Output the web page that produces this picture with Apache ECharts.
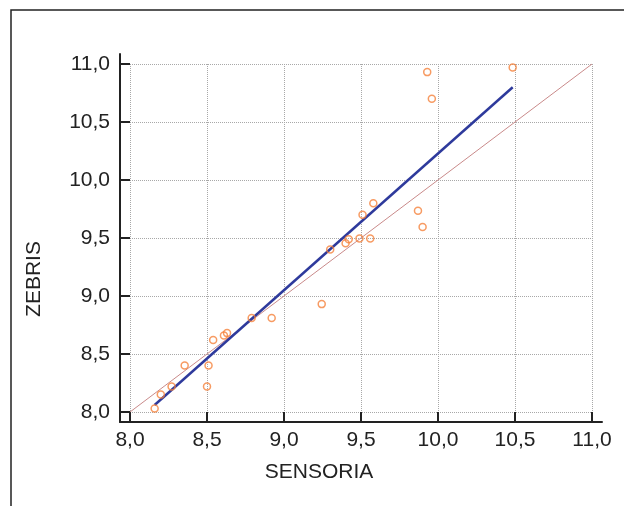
<!DOCTYPE html>
<html>
<head>
<meta charset="utf-8">
<script src="https://cdn.jsdelivr.net/npm/echarts@6/dist/echarts.min.js"></script>
<style>
html,body{margin:0;padding:0;background:#fff;}
#c{width:624px;height:506px;}
</style>
</head>
<body>
<div id="c"></div>
<script>
var sensoria = [9.93, 10.485, 9.96, 9.58, 9.51, 9.87, 9.90, 9.30, 9.40, 9.42, 9.49, 9.56, 9.245, 8.79, 8.92, 8.54, 8.61, 8.63, 8.355, 8.51, 8.50, 8.27, 8.20, 8.16];
var zebris   = [10.93, 10.97, 10.70, 9.80, 9.70, 9.735, 9.595, 9.40, 9.455, 9.49, 9.495, 9.495, 8.93, 8.81, 8.81, 8.62, 8.66, 8.68, 8.40, 8.40, 8.22, 8.22, 8.15, 8.03];
var fitX = [8.16, 10.485];
var fitY = [8.06, 10.80];
var identX = [8.0, 11.0];
var identY = [8.0, 11.0];
var xName = 'SENSORIA';
var yName = 'ZEBRIS';

function pairs(a, b) { return a.map(function (v, i) { return [v, b[i]]; }); }
function fmt(v) { return v.toFixed(1).replace('.', ','); }

var font = 'Liberation Sans, Arial, sans-serif';
var txt = '#222';
var chart = echarts.init(document.getElementById('c'), null, {renderer: 'canvas'});
chart.setOption({
  backgroundColor: '#fff',
  animation: false,
  grid: [
    {left: 130, right: 32, top: 64, bottom: 94},
    {left: 120, right: 22, top: 54, bottom: 84}
  ],
  xAxis: [{
    type: 'value', gridIndex: 0, min: 8, max: 11, interval: 0.5, offset: 10,
    axisLine: {show: false},
    axisTick: {show: true, inside: true, length: 10, lineStyle: {color: txt, width: 2}},
    axisLabel: {formatter: fmt, color: txt, fontSize: 21, fontFamily: font, margin: 8},
    splitLine: {show: true, lineStyle: {color: '#a8a8a8', type: [1, 1], width: 1}}
  }, {
    type: 'value', gridIndex: 1, min: 0, max: 1,
    axisLine: {show: true, onZero: false, lineStyle: {color: txt, width: 2}},
    axisTick: {show: false}, axisLabel: {show: false}, splitLine: {show: false}
  }],
  yAxis: [{
    type: 'value', gridIndex: 0, min: 8, max: 11, interval: 0.5, offset: 10,
    axisLine: {show: false},
    axisTick: {show: true, inside: true, length: 10, lineStyle: {color: txt, width: 2}},
    axisLabel: {formatter: fmt, color: txt, fontSize: 21, fontFamily: font, margin: 10},
    splitLine: {show: true, lineStyle: {color: '#a8a8a8', type: [1, 1], width: 1}}
  }, {
    type: 'value', gridIndex: 1, min: 0, max: 1,
    axisLine: {show: true, onZero: false, lineStyle: {color: txt, width: 2}},
    axisTick: {show: false}, axisLabel: {show: false}, splitLine: {show: false}
  }],
  graphic: [
    {type: 'rect', silent: true, z: 100,
     shape: {x: 11, y: 10, width: 800, height: 700},
     style: {fill: 'none', stroke: '#222', lineWidth: 1.5}},
    {type: 'text', x: 319, y: 472, z: 100,
     style: {text: xName, fill: txt, font: '21px ' + font, textAlign: 'center', textVerticalAlign: 'middle'}},
    {type: 'text', x: 34, y: 279, rotation: Math.PI / 2, z: 100,
     style: {text: yName, fill: txt, font: '21px ' + font, textAlign: 'center', textVerticalAlign: 'middle'}}
  ],
  series: [
    {type: 'line', xAxisIndex: 0, yAxisIndex: 0, data: pairs(identX, identY),
     symbol: 'none', lineStyle: {color: '#c98a8a', width: 1}, z: 2},
    {type: 'line', xAxisIndex: 0, yAxisIndex: 0, data: pairs(fitX, fitY),
     symbol: 'none', lineStyle: {color: '#2e3a9c', width: 2.5}, z: 3},
    {type: 'scatter', xAxisIndex: 0, yAxisIndex: 0, data: pairs(sensoria, zebris),
     symbol: 'circle', symbolSize: 7,
     itemStyle: {color: 'rgba(255,255,255,0)', borderColor: '#f5823c', borderWidth: 1.5}, z: 4}
  ]
});
</script>
</body>
</html>
